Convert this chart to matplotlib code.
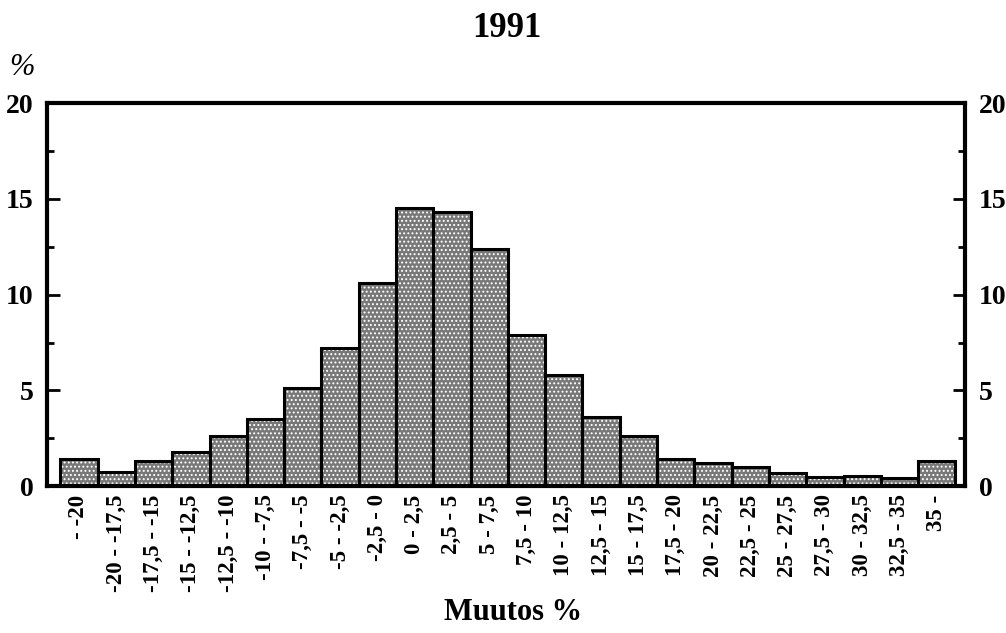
import numpy as np
import matplotlib
matplotlib.use("Agg")
import matplotlib.pyplot as plt
from matplotlib.ticker import MultipleLocator

# share of observations per change class, %
categories = ["- -20", "-20 - -17,5", "-17,5 - -15", "-15 - -12,5", "-12,5 - -10",
              "-10 - -7,5", "-7,5 - -5", "-5 - -2,5", "-2,5 - 0", "0 - 2,5",
              "2,5 - 5", "5 - 7,5", "7,5 - 10", "10 - 12,5", "12,5 - 15",
              "15 - 17,5", "17,5 - 20", "20 - 22,5", "22,5 - 25", "25 - 27,5",
              "27,5 - 30", "30 - 32,5", "32,5 - 35", "35 -"]
shares = [1.4, 0.75, 1.3, 1.8, 2.6, 3.5, 5.1, 7.2, 10.6, 14.5, 14.3, 12.4,
          7.9, 5.8, 3.6, 2.6, 1.4, 1.2, 1.0, 0.7, 0.5, 0.55, 0.4, 1.3]
y_ticks = [0, 5, 10, 15, 20]

plt.rcParams["font.family"] = ["Liberation Serif", "DejaVu Serif"]
plt.rcParams["font.weight"] = "bold"
plt.rcParams["hatch.linewidth"] = 0.9

fig = plt.figure(figsize=(10.06, 6.33), dpi=100)
ax = fig.add_axes([0.047, 0.232, 0.912, 0.605])

x = np.arange(len(categories))
# dotted screen fill, then the black outlines on top
ax.bar(x, shares, width=1.0, facecolor="#787878", edgecolor="white",
       linewidth=0, hatch="....")
ax.bar(x, shares, width=1.0, facecolor="none", edgecolor="black",
       linewidth=2.2)

ax.set_xlim(-0.85, len(categories) - 0.25)
ax.set_ylim(0, 20)
ax.set_yticks(y_ticks)
ax.yaxis.set_minor_locator(MultipleLocator(2.5))
ax.tick_params(axis="y", which="both", direction="in", left=True, right=True,
               labelleft=True, labelright=True, width=2, labelsize=20)
ax.tick_params(axis="y", which="major", length=9, pad=10)
ax.tick_params(axis="y", which="minor", length=5)

ax.set_xticks(x)
ax.set_xticklabels(categories, rotation=90, fontsize=16.5, fontweight="bold")
ax.tick_params(axis="x", length=0, pad=6)

for sp in ax.spines.values():
    sp.set_linewidth(3)

fig.text(0.504, 0.955, "1991", ha="center", va="center", fontsize=25,
         fontweight="bold")
fig.text(0.022, 0.893, "%", ha="center", va="center", fontsize=22,
         style="italic", fontweight="normal")
fig.text(0.51, 0.033, "Muutos %", ha="center", va="center", fontsize=22,
         fontweight="bold")

fig.savefig("out.png", dpi=100)
